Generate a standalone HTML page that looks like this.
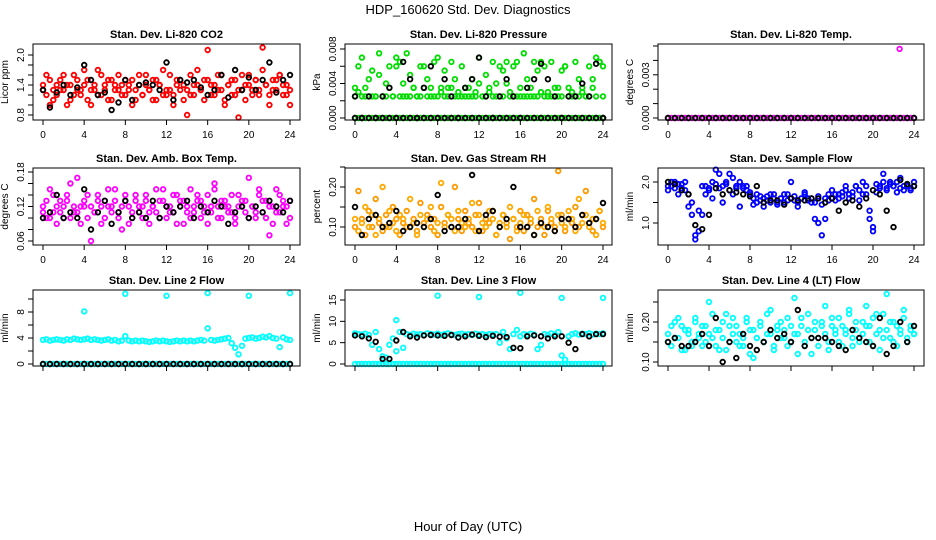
<!DOCTYPE html>
<html><head><meta charset="utf-8">
<style>
body{margin:0;background:#fff;}
svg{display:block;font-family:"Liberation Sans",sans-serif;}
</style></head>
<body>
<svg id="chart" width="936" height="540" viewBox="0 0 936 540">
<text x="468" y="14" text-anchor="middle" font-size="13">HDP_160620  Std. Dev. Diagnostics</text>
<text x="468" y="531" text-anchor="middle" font-size="13">Hour of Day (UTC)</text>
</svg>
<script>
const xTicks = [0,4,8,12,16,20,24];
const co2RedA = [1.3,1.2,1.5,1.1,1.4,1.3,1.6,1.0,1.4,1.2,1.5,1.3,1.7,1.1,1.3,1.4,1.2,1.6,1.3,1.5,1.1,1.4,1.3,1.2,1.5,1.4,1.0,1.3,1.6,1.2,1.4,1.3,1.5,1.1,1.4,1.2,1.3,1.6,1.2,1.4,1.5,1.1,1.3,1.2,1.4,1.7,1.3,1.5,2.1,1.2,1.4,1.3,1.6,1.1,1.4,1.2,1.5,0.75,1.3,1.4,1.6,1.2,1.5,1.3,2.15,1.4,1.2,1.5,1.3,1.6,1.4,1.2,1.0];
const co2RedB = [1.4,1.6,1.0,1.3,1.2,1.5,1.3,1.4,1.1,1.6,1.3,1.2,1.4,1.5,1.0,1.3,1.7,1.2,1.4,1.1,1.5,1.3,1.6,1.4,1.2,1.3,1.5,1.1,1.4,1.2,1.6,1.3,1.1,1.5,1.4,1.7,1.2,1.3,1.0,1.5,1.3,1.4,0.8,1.6,1.2,1.4,1.3,1.1,1.5,1.4,1.2,1.6,1.3,1.0,1.4,1.5,1.2,1.3,1.6,1.1,1.4,1.3,1.5,1.2,1.7,1.4,1.0,1.3,1.5,1.6,1.2,1.4,1.3];
const co2Black = [1.3,0.95,1.25,1.4,1.2,1.35,1.8,1.5,1.2,1.25,0.9,1.05,1.5,1.1,1.4,1.45,1.4,1.3,1.85,1.1,1.5,1.45,1.5,1.35,1.2,1.3,1.6,1.15,1.7,1.3,1.55,1.3,1.5,1.85,1.25,1.5,1.6];
const presGreenA = [.0035,.006,.007,.0025,.0045,.0055,.0025,.0075,.0025,.004,.006,.0025,.007,.0065,.0025,.0075,.005,.0035,.0025,.006,.0035,.0045,.0025,.0065,.007,.0035,.0055,.0025,.0065,.0045,.0025,.006,.0035,.0025,.0045,.003,.007,.0025,.005,.0035,.0065,.004,.0025,.0055,.0065,.003,.006,.0025,.0035,.0075,.0045,.0025,.0065,.0055,.003,.006,.0025,.0065,.0035,.0025,.0055,.006,.0035,.0025,.0065,.0045,.003,.0025,.006,.0035,.007,.0065,.006];
const presGreenB = [.0025,.003,.0025,.0035,.0025,.0025,.0025,.005,.0025,.0025,.0035,.0025,.006,.0025,.004,.0025,.0025,.0035,.0025,.0025,.006,.0025,.0035,.0025,.0025,.003,.0025,.0035,.0035,.0025,.003,.0025,.0025,.0035,.0025,.0025,.004,.0025,.0025,.003,.0025,.0025,.006,.0025,.004,.0025,.0025,.0065,.0025,.0025,.0025,.0035,.0025,.0025,.0065,.0025,.003,.0025,.0025,.0035,.0025,.006,.0025,.003,.0025,.0025,.0035,.0025,.0025,.0045,.0025,.0065,.0025];
const presBlack = [.0025,0,.0025,0,.0025,.0035,0,.0065,.0045,0,.0035,.006,0,.0045,.0025,0,.0035,.0045,.007,.0025,0,.0025,.0045,.0025,0,.0035,.0045,.0063,.0045,.0025,0,.0025,.0025,.004,.0025,.0063,0];
const zeroBand = [0,0,0,0,0,0,0,0,0,0,0,0,0,0,0,0,0,0,0,0,0,0,0,0,0,0,0,0,0,0,0,0,0,0,0,0,0,0,0,0,0,0,0,0,0,0,0,0,0,0,0,0,0,0,0,0,0,0,0,0,0,0,0,0,0,0,0,0,0,0,0,0,0];
const tempOutlierHour = [22.6];
const tempOutlierVal = [0.0048];
const ambMagA = [.11,.13,.10,.14,.12,.11,.10,.13,.16,.12,.11,.09,.12,.14,.06,.11,.13,.12,.10,.15,.12,.13,.11,.08,.14,.12,.10,.13,.11,.12,.14,.09,.12,.11,.13,.15,.10,.12,.11,.14,.13,.09,.12,.15,.11,.13,.10,.12,.14,.11,.16,.12,.10,.13,.12,.11,.09,.14,.12,.13,.10,.12,.11,.15,.13,.10,.07,.12,.11,.14,.12,.09,.13];
const ambMagB = [.12,.10,.15,.11,.09,.13,.12,.14,.10,.11,.17,.12,.13,.10,.12,.11,.14,.09,.13,.12,.11,.15,.10,.12,.13,.09,.11,.14,.12,.10,.13,.11,.12,.15,.10,.13,.12,.11,.14,.09,.12,.13,.11,.10,.12,.14,.13,.11,.09,.12,.15,.10,.13,.12,.11,.14,.10,.12,.13,.11,.17,.12,.10,.14,.11,.13,.12,.09,.15,.11,.13,.12,.10];
const ambBlack = [.10,.11,.14,.10,.11,.10,.15,.08,.11,.13,.09,.11,.13,.10,.11,.10,.13,.10,.12,.11,.12,.13,.10,.12,.11,.13,.12,.09,.11,.12,.10,.12,.11,.13,.12,.11,.13];
const rhOrA = [.10,.19,.12,.08,.14,.10,.17,.11,.09,.13,.10,.15,.12,.08,.11,.14,.10,.12,.09,.16,.11,.13,.10,.12,.08,.15,.11,.13,.10,.20,.12,.09,.14,.11,.10,.13,.16,.09,.12,.11,.14,.08,.10,.13,.11,.07,.12,.10,.14,.09,.13,.11,.17,.10,.12,.08,.14,.11,.10,.24,.13,.09,.12,.11,.15,.10,.13,.19,.11,.09,.12,.14,.10];
const rhOrB = [.12,.09,.11,.15,.10,.13,.08,.12,.20,.10,.14,.11,.09,.13,.12,.10,.17,.11,.08,.13,.10,.12,.15,.09,.11,.21,.10,.13,.12,.09,.14,.11,.10,.12,.16,.09,.13,.11,.10,.14,.12,.08,.11,.13,.10,.15,.12,.09,.11,.13,.10,.12,.08,.14,.11,.10,.15,.12,.09,.13,.11,.10,.14,.12,.09,.17,.11,.13,.10,.12,.08,.14,.11];
const rhBlack = [.15,.08,.12,.13,.10,.11,.14,.09,.10,.11,.10,.12,.18,.09,.10,.10,.12,.23,.09,.13,.14,.10,.12,.20,.10,.10,.08,.11,.10,.09,.12,.12,.10,.13,.11,.12,.16];
const flowBlueA = [1.8,1.9,2.0,1.95,1.85,2.0,1.7,1.5,0.7,0.8,1.2,1.9,1.8,2.0,1.95,2.2,1.9,2.0,1.8,2.1,1.9,2.0,1.85,1.9,1.7,1.6,1.5,1.65,1.6,1.55,1.7,1.6,1.5,1.6,1.7,1.55,1.6,1.65,1.5,1.6,1.7,1.55,1.6,1.5,1.65,0.7,1.1,1.55,1.6,1.7,1.6,1.75,1.8,1.7,1.65,1.9,1.8,1.7,1.9,1.3,0.8,1.75,1.9,2.0,1.85,1.95,1.9,2.0,1.85,1.9,1.95,1.8,1.9];
const flowBlueB = [1.9,2.0,1.85,1.7,1.95,1.8,1.4,1.2,0.6,1.3,1.9,1.7,1.85,1.6,2.3,1.85,1.5,1.95,2.2,1.7,1.85,1.4,1.9,1.8,1.75,1.45,1.7,1.55,1.4,1.65,1.5,1.7,1.45,1.6,1.5,1.7,2.0,1.55,1.4,1.6,1.75,1.6,1.5,1.1,1.0,1.45,1.6,1.7,1.8,1.55,1.7,1.65,1.9,1.6,1.75,1.9,1.55,2.0,1.7,1.1,0.9,1.95,1.85,2.2,1.8,2.0,1.9,1.75,2.1,1.8,1.9,1.85,2.0];
const flowBlack = [2.0,1.95,1.8,1.7,0.95,0.85,1.2,1.85,1.7,1.8,1.75,1.7,1.65,1.9,1.5,1.55,1.55,1.45,1.6,1.55,1.55,1.6,1.6,1.5,1.6,1.3,1.5,1.55,1.4,1.6,1.8,1.7,1.3,0.9,2.05,1.95,1.9];
const line2Cyan = [3.7,3.8,3.6,3.7,3.8,3.7,3.6,3.8,3.7,3.9,3.8,3.7,3.8,3.9,3.7,3.8,3.7,3.6,3.7,3.8,3.6,3.7,3.5,3.6,4.3,3.6,3.5,3.6,3.5,3.6,3.5,3.4,3.5,3.6,3.5,3.6,3.5,3.4,3.5,3.6,3.5,3.6,3.5,3.6,3.5,3.6,3.7,3.6,5.5,3.7,3.6,3.7,3.8,3.9,4.0,3.2,2.5,1.5,2.8,3.9,4.0,4.1,3.9,4.0,4.2,4.1,4.3,4.0,3.9,2.6,4.1,3.8,3.7];
const line2OutHour = [4,8,12,16,20,24];
const line2OutVal = [8.1,10.8,10.5,10.9,10.5,10.9];
const line3Cyan = [7.2,7.0,6.9,7.1,6.8,4.5,7.5,3.5,1.8,1.5,4.5,6.0,3.0,7.5,3.8,7.0,6.8,7.1,6.9,7.0,6.8,7.2,7.0,6.9,7.1,6.8,7.0,7.2,6.9,6.8,7.0,7.1,6.9,7.0,6.8,7.1,6.9,7.0,6.8,7.0,6.9,7.0,5.0,7.5,6.0,3.5,7.0,8.0,6.5,7.0,6.8,7.1,6.9,3.5,4.5,7.0,6.8,7.2,6.9,7.5,2.0,1.0,6.5,7.0,7.2,6.9,7.1,7.0,7.2,6.9,7.1,7.0,7.2];
const line3OutHour = [4,8,12,16,20,24];
const line3OutVal = [10.3,16.0,15.7,16.7,15.5,15.5];
const line3Black = [6.7,6.5,6.0,5.2,1.2,1.2,5.5,7.5,6.5,6.2,6.7,6.8,6.7,6.6,6.8,6.2,6.5,6.9,6.6,6.3,6.6,6.4,6.3,3.8,3.7,6.5,6.7,6.5,6.0,6.5,6.5,5.0,3.5,7.0,6.5,7.0,7.0];
const line4CyanA = [.17,.14,.20,.16,.19,.13,.18,.15,.21,.17,.14,.19,.25,.16,.18,.13,.20,.22,.15,.17,.19,.14,.16,.21,.12,.18,.16,.20,.15,.17,.23,.14,.19,.16,.18,.21,.15,.26,.17,.19,.14,.22,.12,.18,.16,.20,.24,.15,.19,.17,.21,.14,.18,.23,.16,.20,.15,.17,.24,.19,.14,.22,.18,.16,.27,.20,.15,.19,.17,.23,.16,.18,.17];
const line4CyanB = [.15,.19,.16,.21,.13,.18,.17,.14,.20,.16,.19,.15,.17,.22,.14,.18,.16,.13,.19,.21,.15,.17,.14,.20,.18,.11,.16,.19,.15,.22,.17,.13,.18,.20,.16,.14,.19,.17,.12,.21,.15,.18,.16,.20,.14,.19,.17,.13,.21,.18,.15,.19,.17,.22,.14,.18,.16,.20,.19,.15,.21,.17,.13,.22,.18,.16,.20,.14,.18,.21,.15,.19,.17];
const line4Black = [.15,.16,.14,.14,.15,.17,.14,.21,.10,.15,.11,.17,.14,.13,.15,.18,.16,.17,.15,.23,.14,.16,.16,.16,.15,.14,.13,.18,.16,.15,.14,.21,.12,.14,.20,.15,.19];

const NS = "http://www.w3.org/2000/svg";
const svg = document.getElementById('chart');
const cols = [{bl:33,br:300,x0:43,x24:290},{bl:345,br:612,x0:355,x24:603},{bl:658,br:924,x0:668,x24:914}];
const rows = [{bt:44,bb:120},{bt:168,bb:245},{bt:290,bb:366}];
const CY = '#00ffff';
const panels = [
 {name:'co2',title:'Stan. Dev. Li-820 CO2',ylab:'Licor ppm',c:0,r:0,v1:2.0,p1:55,v2:0.8,p2:115,ticks:[0.8,1.0,1.2,1.4,1.6,1.8,2.0],labels:['0.8','1.4','2.0'],
  series:[{v:co2RedA,col:'#ff0000'},{v:co2RedB,col:'#ff0000'},{v:co2Black,col:'#000'}]},
 {name:'pressure',title:'Stan. Dev. Li-820 Pressure',ylab:'kPa',c:1,r:0,v1:0.008,p1:49,v2:0,p2:118,ticks:[0,.002,.004,.006,.008],labels:['0.000','0.004','0.008'],
  series:[{v:zeroBand,col:'#00dd00'},{v:presGreenB,col:'#00dd00'},{v:presGreenA,col:'#00dd00'},{v:zeroBand,col:'#000',sparse:true},{v:presBlack,col:'#000'}]},
 {name:'li820-temp',title:'Stan. Dev. Li-820 Temp.',ylab:'degrees C',c:2,r:0,v1:0.005,p1:46,v2:0,p2:118,ticks:[0,.001,.002,.003,.004,.005],labels:['0.000','0.003'],
  series:[{v:zeroBand,col:'#ff00ff'},{v:zeroBand,col:'#000',sparse:true},{v:tempOutlierVal,x:tempOutlierHour,col:'#ff00ff'}]},
 {name:'amb-box-temp',title:'Stan. Dev. Amb. Box Temp.',ylab:'degrees C',c:0,r:1,v1:.18,p1:172,v2:.06,p2:241,ticks:[.06,.08,.10,.12,.14,.16,.18],labels:['0.06','0.12','0.18'],
  series:[{v:ambMagA,col:'#ff00ff'},{v:ambMagB,col:'#ff00ff'},{v:ambBlack,col:'#000'}]},
 {name:'gas-stream-rh',title:'Stan. Dev. Gas Stream RH',ylab:'percent',c:1,r:1,v1:.20,p1:187,v2:.10,p2:227,ticks:[.10,.15,.20,.25],labels:['0.10','0.20'],
  series:[{v:rhOrA,col:'#ff9900'},{v:rhOrB,col:'#ffaa00'},{v:rhBlack,col:'#000'}]},
 {name:'sample-flow',title:'Stan. Dev. Sample Flow',ylab:'ml/min',c:2,r:1,v1:2.0,p1:182,v2:1.0,p2:223,ticks:[1.0,1.5,2.0],labels:['1.0','2.0'],
  series:[{v:flowBlueA,col:'#0000ff'},{v:flowBlueB,col:'#0000ff'},{v:flowBlack,col:'#000'}]},
 {name:'line2-flow',title:'Stan. Dev. Line 2 Flow',ylab:'ml/min',c:0,r:2,v1:8,p1:312,v2:0,p2:364,ticks:[0,2,4,6,8,10],labels:['0','4','8'],noX:true,
  series:[{v:zeroBand,col:CY},{v:line2Cyan,col:CY},{v:line2OutVal,x:line2OutHour,col:CY},{v:zeroBand,col:'#000',sparse:true}]},
 {name:'line3-flow',title:'Stan. Dev. Line 3 Flow',ylab:'ml/min',c:1,r:2,v1:15,p1:300,v2:0,p2:364,ticks:[0,5,10,15],labels:['0','5','10','15'],noX:true,
  series:[{v:zeroBand,col:CY},{v:line3Cyan,col:CY},{v:line3OutVal,x:line3OutHour,col:CY},{v:line3Black,col:'#000'}]},
 {name:'line4-flow',title:'Stan. Dev. Line 4 (LT) Flow',ylab:'ml/min',c:2,r:2,v1:.20,p1:322,v2:.10,p2:362,ticks:[.10,.15,.20,.25],labels:['0.10','0.20'],noX:true,
  series:[{v:line4CyanA,col:CY},{v:line4CyanB,col:CY},{v:line4Black,col:'#000'}]}
];
function mk(tag, attrs, parent){const e=document.createElementNS(NS,tag);for(const k in attrs)e.setAttribute(k,attrs[k]);(parent||svg).appendChild(e);return e;}
panels.forEach(p=>{
  const C=cols[p.c], R=rows[p.r];
  const xs=h=>C.x0+(C.x24-C.x0)*h/24;
  const ys=v=>p.p2+(p.p1-p.p2)*(v-p.v2)/(p.v1-p.v2);
  const g=mk('g',{});
  
  
  const t=mk('text',{x:(C.bl+C.br)/2,y:R.bt-6,'text-anchor':'middle','font-size':'11','font-weight':'bold'},g);
  t.textContent=p.title;
  
  
  const marks=mk('g',{fill:'none','stroke-width':'1.8'},g);
  
  
  p.series.forEach(s=>{
    const n=s.v.length;
    s.v.forEach((v,i)=>{
      if(s.sparse && i%2) return;
      const h=s.x?s.x[i]:i*24/(n-1);
      const c=mk('circle',{cx:xs(h).toFixed(1),cy:ys(v).toFixed(1),r:2.3,stroke:s.col},marks);
      
      
    });
  });
  const box=mk('rect',{x:C.bl,y:R.bt,width:C.br-C.bl,height:R.bb-R.bt,fill:'none',stroke:'#000','stroke-width':'1'},g);
  
  
  const xa=mk('g',{stroke:'#000'},g);
  
  
  mk('line',{x1:xs(0),x2:xs(24),y1:R.bb,y2:R.bb},xa);
  xTicks.forEach(h=>{
    mk('line',{x1:xs(h),x2:xs(h),y1:R.bb,y2:R.bb+5},xa);
    if(!p.noX){const tx=mk('text',{x:xs(h),y:R.bb+18,'text-anchor':'middle','font-size':'10',stroke:'none'},xa);tx.textContent=String(h);}
  });
  const ya=mk('g',{stroke:'#000'},g);
  
  
  const tk=p.ticks;
  mk('line',{x1:C.bl,x2:C.bl,y1:ys(tk[0]),y2:ys(tk[tk.length-1])},ya);
  tk.forEach(v=>mk('line',{x1:C.bl,x2:C.bl-5,y1:ys(v),y2:ys(v)},ya));
  p.labels.forEach(l=>{
    const y=ys(parseFloat(l));
    const tx=mk('text',{x:C.bl-9,y:y,transform:`rotate(-90 ${C.bl-9} ${y})`,'text-anchor':'middle','font-size':'10',stroke:'none'},ya);
    tx.textContent=l;
  });
  const yt=mk('text',{x:C.bl-25,y:(R.bt+R.bb)/2,transform:`rotate(-90 ${C.bl-25} ${(R.bt+R.bb)/2})`,'text-anchor':'middle','font-size':'10'},g);
  yt.textContent=p.ylab;
  
  
});
</script>
</body></html>
